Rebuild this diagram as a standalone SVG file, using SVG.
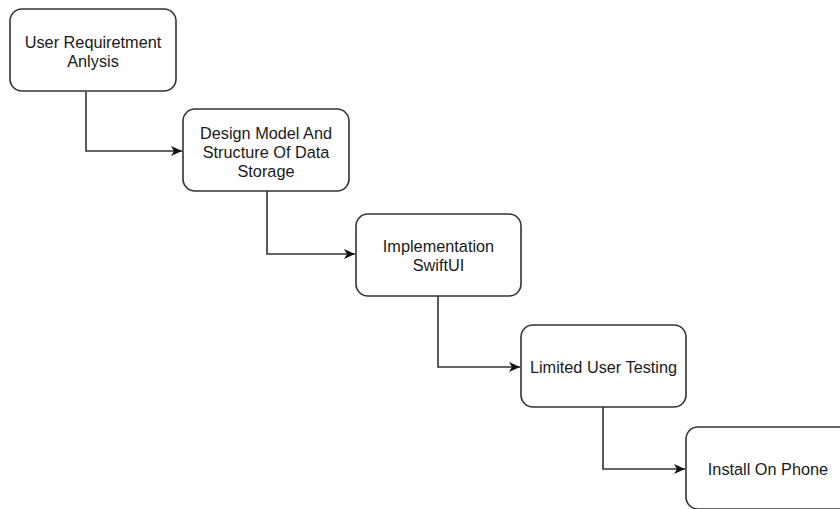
<svg xmlns="http://www.w3.org/2000/svg" width="840" height="509" viewBox="0 0 840 509">
<defs>
<style>
.box{fill:#fff;stroke:#333;stroke-width:1.6}
.lbl{font-family:"Liberation Sans",Arial,sans-serif;font-size:16.3px;fill:#1a1a1a;text-anchor:middle}
.edge{fill:none;stroke:#333;stroke-width:1.6}
</style>
<marker id="arr" markerWidth="13" markerHeight="12" refX="11" refY="6" orient="auto" markerUnits="userSpaceOnUse">
<path d="M0,1 L11,6 L0,11 L3,6 Z" fill="#111"/>
</marker>
</defs>
<rect width="840" height="509" fill="#fff"/>
<g id="connectors">
<path class="edge" d="M86,92 V151 H182" marker-end="url(#arr)"/>
<path class="edge" d="M267,191 V254 H355" marker-end="url(#arr)"/>
<path class="edge" d="M438,296 V367 H520" marker-end="url(#arr)"/>
<path class="edge" d="M603,407 V469 H685" marker-end="url(#arr)"/>
</g>
<g id="n1">
<rect class="box" x="10" y="9" width="166" height="82" rx="12"/>
<text class="lbl" x="93" y="48">User Requiretment</text>
<text class="lbl" x="93" y="67">Anlysis</text>
</g>
<g id="n2">
<rect class="box" x="183" y="109" width="166" height="82" rx="12"/>
<text class="lbl" x="266" y="138.5">Design Model And</text>
<text class="lbl" x="266" y="157.5">Structure Of Data</text>
<text class="lbl" x="266" y="176.5">Storage</text>
</g>
<g id="n3">
<rect class="box" x="356" y="214" width="165" height="82" rx="12"/>
<text class="lbl" x="438.5" y="251.5">Implementation</text>
<text class="lbl" x="438.5" y="270.5">SwiftUI</text>
</g>
<g id="n4">
<rect class="box" x="521" y="325" width="165" height="82" rx="12"/>
<text class="lbl" x="603.5" y="372.5">Limited User Testing</text>
</g>
<g id="n5">
<rect class="box" x="686" y="427" width="166" height="82" rx="12"/>
<text class="lbl" x="768" y="474.5">Install On Phone</text>
</g>
</svg>
